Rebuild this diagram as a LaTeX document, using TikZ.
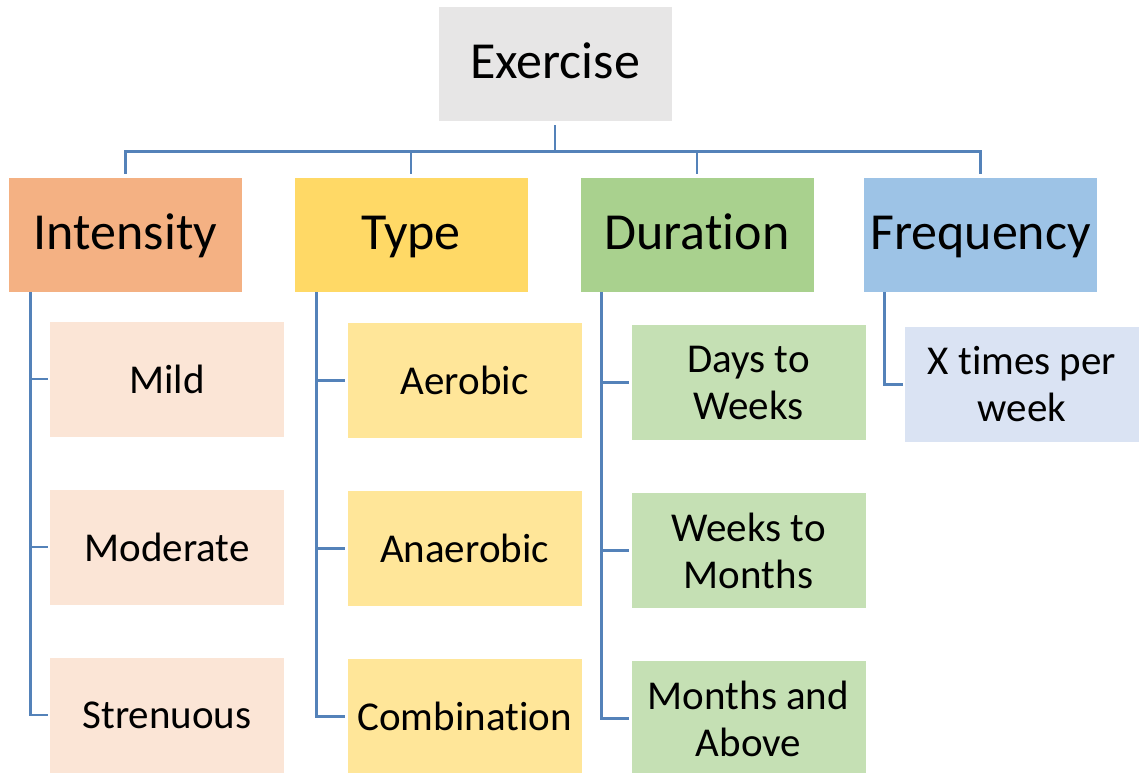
\documentclass[tikz,border=0pt]{standalone}
\usepackage{fontspec}
\setmainfont{Carlito}[Ligatures=NoCommon]
\definecolor{exgray}{HTML}{E7E6E6}
\definecolor{intorange}{HTML}{F4B183}
\definecolor{typeyellow}{HTML}{FFD966}
\definecolor{durgreen}{HTML}{A9D18E}
\definecolor{freqblue}{HTML}{9DC3E6}
\definecolor{intlight}{HTML}{FBE5D6}
\definecolor{typelight}{HTML}{FFE699}
\definecolor{durlight}{HTML}{C5E0B4}
\definecolor{freqlight}{HTML}{DAE3F3}
\definecolor{linkblue}{RGB}{84,130,185}

\begin{document}
\begin{tikzpicture}[x=1pt,y=-1pt,
    link/.style={draw=linkblue,line width=2.8pt},
    elbow/.style={to path={|- (\tikztotarget)}}]
\useasboundingbox (0,0) rectangle (1144,773);
\clip (0,0) rectangle (1144,773);

\begin{scope}[every node/.style={rectangle,inner sep=0pt,minimum width=233pt,minimum height=114pt,text height=39pt,text depth=10pt,font=\fontsize{52}{58}\selectfont}]
    \node (ex)[fill=exgray] at (555,64) {Exercise};
    \node (int)[fill=intorange] at (125.5,235) {Intensity};
    \node (typ)[fill=typeyellow] at (411,235) {Type};
    \node (dur)[fill=durgreen] at (697,235) {Duration};
    \node (freq)[fill=freqblue] at (980.5,235) {Frequency};
\end{scope}

\begin{scope}[every node/.style={rectangle,inner sep=0pt,align=center,minimum width=234pt,minimum height=115pt,font=\fontsize{41}{47}\selectfont}]
    \node (mild)[fill=intlight] at (167,379) {Mild};
    \node (mod)[fill=intlight] at (167,547) {Moderate};
    \node (stren)[fill=intlight] at (167,715) {Strenuous};
    \node (aero)[fill=typelight] at (464.5,380.5) {Aerobic};
    \node (anaero)[fill=typelight] at (464.5,548.5) {Anaerobic};
    \node (combi)[fill=typelight] at (464.5,716.5) {Combination};
    \node (days)[fill=durlight] at (748.5,382.5) {Days to\\Weeks};
    \node (weeks)[fill=durlight] at (748.5,550.5) {Weeks to\\Months};
    \node (months)[fill=durlight] at (748.5,718.5) {Months and\\Above};
    \node (xtimes)[fill=freqlight] at (1022,384.5) {X times per\\week};
\end{scope}

% top level
\begin{scope}[shorten <=4pt,shorten >=4pt]
    \draw[link] (ex.south) -- ++(0,30) -| (int.north);
    \draw[link] (ex.south) -- ++(0,30) -| (typ.north);
    \draw[link] (ex.south) -- ++(0,30) -| (dur.north);
    \draw[link] (ex.south) -- ++(0,30) -| (freq.north);
\end{scope}

% sub levels
\begin{scope}[every edge/.style={link,elbow,shorten >=2pt}]
    \path ([xshift=22pt]int.south west) edge (mild.west) edge (mod.west) edge (stren.west);
    \path ([xshift=22pt]typ.south west) edge (aero.west) edge (anaero.west) edge (combi.west);
    \path ([xshift=21pt]dur.south west) edge (days.west) edge (weeks.west) edge (months.west);
    \path ([xshift=21pt]freq.south west) edge (xtimes.west);
\end{scope}
\end{tikzpicture}
\end{document}
